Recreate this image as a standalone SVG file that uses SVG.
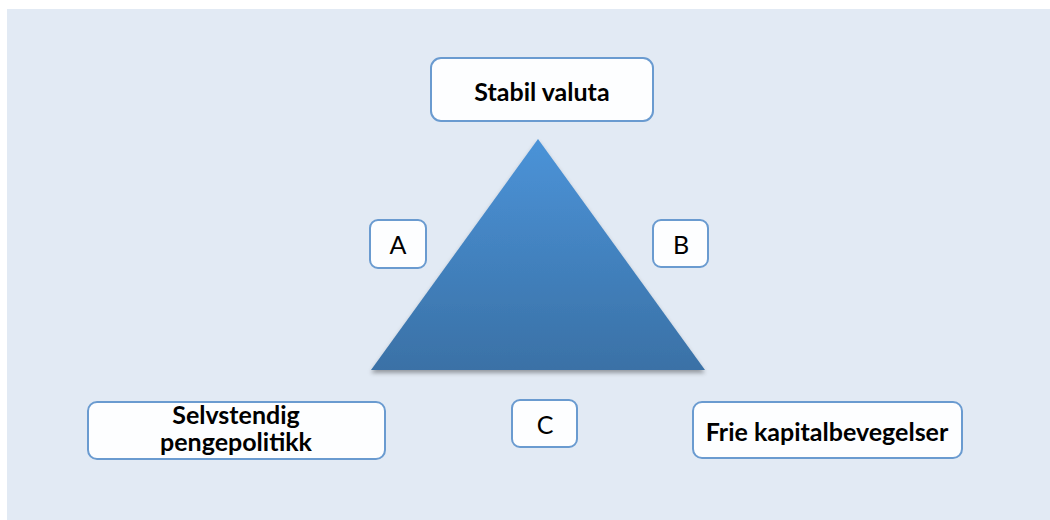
<svg xmlns="http://www.w3.org/2000/svg" width="1050" height="520" viewBox="0 0 1050 520">
<defs>
<linearGradient id="tri" x1="0" y1="0" x2="0" y2="1">
<stop offset="0" stop-color="#4b93d8"/>
<stop offset="1" stop-color="#3a71a6"/>
</linearGradient>
<filter id="sh" x="-10%" y="-10%" width="120%" height="130%">
<feGaussianBlur in="SourceAlpha" stdDeviation="2"/>
<feOffset dx="0" dy="3" result="b"/>
<feFlood flood-color="#000" flood-opacity="0.35"/>
<feComposite in2="b" operator="in"/>
<feMerge><feMergeNode/><feMergeNode in="SourceGraphic"/></feMerge>
</filter>
<style>
.box{fill:#fdfeff;stroke:#6a9bd0;stroke-width:2}
.bt{font-family:Lato,"Liberation Sans",sans-serif;font-weight:bold;font-size:25px;fill:#000;text-anchor:middle}
.lt{font-family:Lato,"Liberation Sans",sans-serif;font-size:25px;fill:#000;text-anchor:middle}
</style>
</defs>
<rect x="0" y="0" width="1050" height="520" fill="#fff"/>
<rect x="7" y="9" width="1043" height="511" fill="#e2eaf4"/>
<g id="triangle">
<polygon points="538,139 705,370 371,370" fill="url(#tri)" filter="url(#sh)"/>
</g>
<g id="connectors"></g>
<g id="stabil">
<rect class="box" x="431" y="58" width="222" height="63" rx="10"/>
<text class="bt" x="542" y="101">Stabil valuta</text>
</g>
<g id="A">
<rect class="box" x="370" y="220" width="56" height="48" rx="8"/>
<text class="lt" x="398" y="254">A</text>
</g>
<g id="B">
<rect class="box" x="653" y="220" width="55" height="47" rx="8"/>
<text class="lt" x="681" y="254">B</text>
</g>
<g id="C">
<rect class="box" x="512" y="400" width="65" height="47" rx="8"/>
<text class="lt" x="545" y="434">C</text>
</g>
<g id="selvstendig">
<rect class="box" x="88" y="402" width="297" height="57" rx="9"/>
<text class="bt" x="236" y="424">Selvstendig</text>
<text class="bt" x="236" y="451">pengepolitikk</text>
</g>
<g id="frie">
<rect class="box" x="693" y="402" width="269" height="56" rx="9"/>
<text class="bt" x="827" y="441">Frie kapitalbevegelser</text>
</g>
</svg>
